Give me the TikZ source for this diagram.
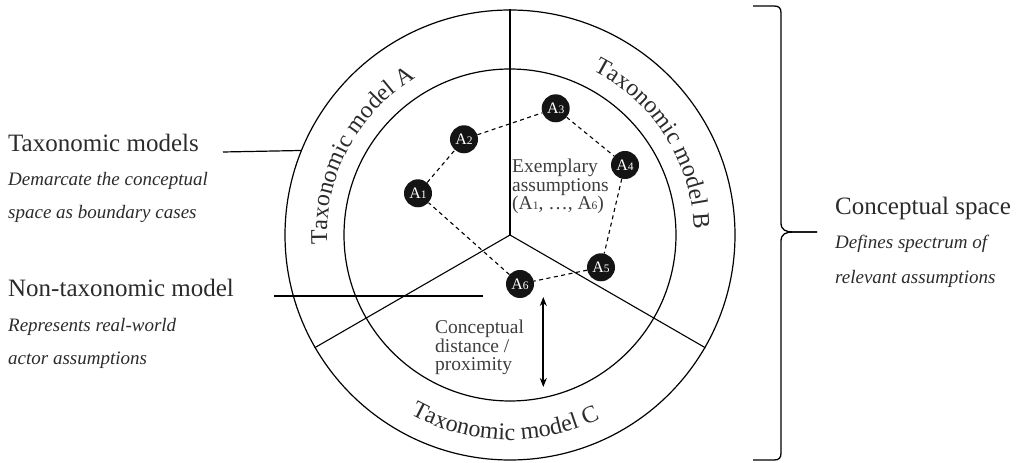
\documentclass[tikz,border=0pt]{standalone}
\usepackage{fontspec}
\setmainfont{Liberation Serif}
\usetikzlibrary{decorations.text, arrows.meta}
\definecolor{txt}{HTML}{2B2B2B}
\definecolor{gtxt}{HTML}{3E3E3E}
\newcommand\smalldig[1]{{\fontsize{11.5}{11.5}\selectfont #1}}
\newcommand\circfont{\fontsize{24}{24}\selectfont\color{txt}}
\begin{document}
\begin{tikzpicture}[x=1pt,y=1pt,
  ring/.style={draw=black, line width=1.2pt, circle, inner sep=0pt},
  spoke/.style={draw=black, line width=1.1pt},
  anode/.style={circle, fill=black!92, minimum size=28pt, inner sep=0pt, text=white, font=\fontsize{16}{16}\selectfont},
  dashlink/.style={draw=black, line width=1.1pt, dash pattern=on 4pt off 3.5pt},
  title/.style={anchor=base west, inner sep=0pt, text=txt, font=\fontsize{25}{25}\selectfont},
  subline/.style={anchor=base west, inner sep=0pt, text=txt, font=\fontsize{19}{19}\selectfont\itshape},
  innertext/.style={anchor=base west, inner sep=0pt, text=gtxt, font=\fontsize{19.5}{19.5}\selectfont},
  leader/.style={draw=black, line width=1.2pt},
  bracestyle/.style={draw=black, line width=1.3pt},
  distarrow/.style={draw=black, line width=2.2pt, {Stealth[length=9pt,width=7pt]}-{Stealth[length=9pt,width=7pt]}},
]
\useasboundingbox (0,0) rectangle (1026,463);
\coordinate (c) at (510,228);
\node[ring, minimum size=450pt] (outer) at (c) {};
\node[ring, minimum size=332pt] (innerc) at (c) {};
\draw[spoke] (c) -- (outer.90);
\draw[spoke] (c) -- (outer.210);
\draw[spoke] (c) -- (outer.330);

% curved labels
\path[decorate, decoration={text along path, text align=center, text={|\circfont|Taxonomic model A}}]
  ([shift={(222:183)}]c) arc[start angle=222, end angle=82, radius=183];
\path[decorate, decoration={text along path, text align=center, text={|\circfont|Taxonomic model B}}]
  ([shift={(102.5:184)}]c) arc[start angle=102.5, end angle=-37.5, radius=184];
\path[decorate, decoration={text along path, text align=center, text={|\circfont|Taxonomic model C}}]
  ([shift={(198.5:205)}]c) arc[start angle=198.5, end angle=338.5, radius=205];

% assumption nodes
\node[anode] (A1) at (418,269.7) {A\smalldig{1}};
\node[anode] (A2) at (464,323.7) {A\smalldig{2}};
\node[anode] (A3) at (555.7,354.7) {A\smalldig{3}};
\node[anode] (A4) at (625,298) {A\smalldig{4}};
\node[anode] (A5) at (601,195.7) {A\smalldig{5}};
\node[anode] (A6) at (520,179) {A\smalldig{6}};
\draw[dashlink] (A1) -- (A2) -- (A3) -- (A4) -- (A5) -- (A6) -- (A1);

% inner texts
\node[innertext] (ex1) at (512,290.3) {Exemplary};
\node[innertext] (ex2) at (512,271.3) {assumptions};
\node[innertext] (ex3) at (512,253) {(A\smalldig{1}, …, A\smalldig{6})};
\node[innertext] (cd1) at (435,129.7) {Conceptual};
\node[innertext] (cd2) at (435,110.3) {distance /};
\node[innertext] (cd3) at (435,92) {proximity};
\coordinate (arrtop) at (543.3,166);
\coordinate (arrbot) at (543.3,76);
\draw[distarrow] (arrtop) -- (arrbot);

% left labels
\node[title] (tm) at (8,311) {Taxonomic models};
\node[subline] (tm1) at (8,277) {Demarcate the conceptual};
\node[subline] (tm2) at (8,244) {space as boundary cases};
\coordinate (tmstart) at (223,311);
\draw[leader] (tmstart) -- (outer.158.35);

\node[title] (nt) at (8,166) {Non-taxonomic model};
\node[subline] (nt1) at (8,131) {Represents real-world};
\node[subline] (nt2) at (8,98) {actor assumptions};
\coordinate (ntstart) at (274,167);
\coordinate (ntend) at (483,167);
\draw[leader] (ntstart) -- (ntend);

% right brace and labels
\draw[bracestyle] (753,457) -- (774,457) .. controls (779,457) and (781,455) .. (781,450)
  -- (781,240) .. controls (781,233) and (786,231) .. (793,231) -- (817,231);
\draw[bracestyle] (817,231) -- (793,231) .. controls (786,231) and (781,229) .. (781,222)
  -- (781,10) .. controls (781,5) and (779,3) .. (774,3) -- (753,3);
\node[title] (cs) at (835,248) {Conceptual space};
\node[subline] (cs1) at (835,214) {Defines spectrum of};
\node[subline] (cs2) at (835,179) {relevant assumptions};
\end{tikzpicture}
\end{document}
